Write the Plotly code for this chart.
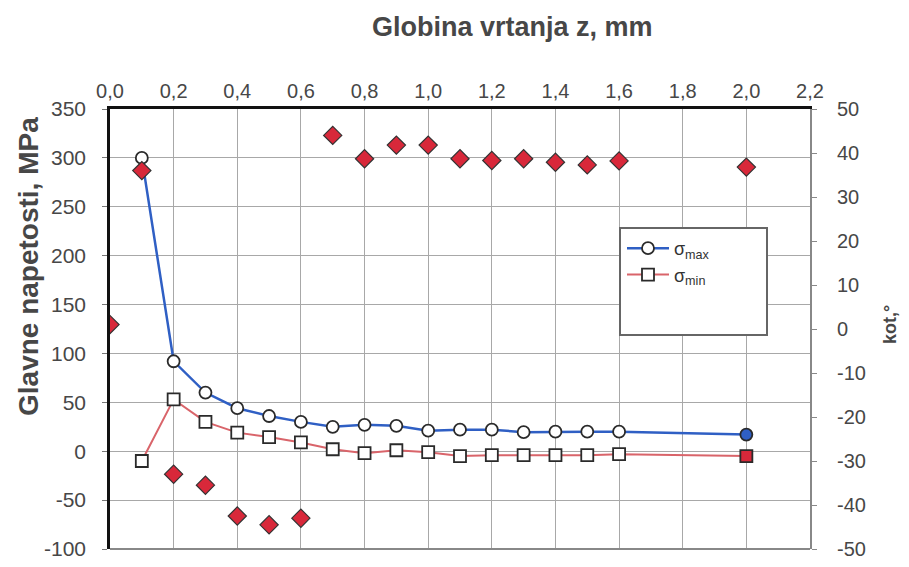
import plotly.graph_objects as go

# depth z, mm
depth = [0.1, 0.2, 0.3, 0.4, 0.5, 0.6, 0.7, 0.8, 0.9, 1.0, 1.1, 1.2, 1.3, 1.4, 1.5, 1.6, 2.0]
sigma_max = [300, 92, 60, 44, 36, 30, 25, 27, 26, 21, 22, 22, 19.5, 20, 20, 20, 17]
sigma_min = [-10, 53, 30, 19, 14.5, 9, 2, -2, 1, -1, -5, -4, -4, -4, -4, -3, -5]

angle_depth = [0.0, 0.1, 0.2, 0.3, 0.4, 0.5, 0.6, 0.7, 0.8, 0.9, 1.0, 1.1, 1.2, 1.3, 1.4, 1.5, 1.6, 2.0]
angle = [1, 36, -33, -35.5, -42.5, -44.5, -43, 44, 38.7, 41.8, 41.8, 38.7, 38.3, 38.7, 37.9, 37.3, 38.2, 36.8]

x_ticks = [0.0, 0.2, 0.4, 0.6, 0.8, 1.0, 1.2, 1.4, 1.6, 1.8, 2.0, 2.2]
x_tick_labels = ["0,0", "0,2", "0,4", "0,6", "0,8", "1,0", "1,2", "1,4", "1,6", "1,8", "2,0", "2,2"]
y_ticks = [350, 300, 250, 200, 150, 100, 50, 0, -50, -100]
y_tick_labels = ["350", "300", "250", "200", "150", "100", "50", "0", "-50", "-100"]
y2_ticks = [50, 40, 30, 20, 10, 0, -10, -20, -30, -40, -50]
y2_tick_labels = ["50", "40", "30", "20", "10", "0", "-10", "-20", "-30", "-40", "-50"]

FONT = "Liberation Sans, Arial, sans-serif"
TXT = "#474747"
BLUE = "#2f5fc4"
RED = "#d9646a"

n = len(depth)
max_fill = ["white"] * (n - 1) + [BLUE]
min_fill = ["white"] * (n - 1) + ["#d8283a"]

fig = go.Figure()
fig.add_trace(go.Scatter(
    x=depth, y=sigma_max, name="σ<sub>max</sub>", mode="lines+markers",
    line=dict(color=BLUE, width=2.5),
    marker=dict(symbol="circle", size=12, color=max_fill,
                line=dict(color="#2a2a2a", width=1.8)),
))
fig.add_trace(go.Scatter(
    x=depth, y=sigma_min, name="σ<sub>min</sub>", mode="lines+markers",
    line=dict(color=RED, width=2),
    marker=dict(symbol="square", size=12, color=min_fill,
                line=dict(color="#2a2a2a", width=1.8)),
))
fig.add_trace(go.Scatter(
    x=angle_depth, y=angle, yaxis="y2", mode="markers", showlegend=False,
    marker=dict(symbol="diamond", size=14, color="#d8283a",
                line=dict(color="#333333", width=1.2)),
))

# page body has an 8px margin; figure sized so it fits the 909x567 window
W, H = 893, 551
L, R, T, B = 102, 91, 101, 10
pw, ph = W - L - R, H - T - B
OFF = 8

def px(xr):
    return (xr - OFF - L) / pw

def py(yr):
    return (H - B - (yr - OFF)) / ph

fig.update_layout(
    width=W, height=H,
    margin=dict(l=L, r=R, t=T, b=B, autoexpand=False),
    paper_bgcolor="white", plot_bgcolor="white",
    font=dict(family=FONT, color=TXT, size=20),
    xaxis=dict(
        side="top", range=[0, 2.2], tickvals=x_ticks, ticktext=x_tick_labels,
        showgrid=True, gridcolor="#a8a8a8", gridwidth=1,
        showline=True, linecolor="#111111", linewidth=2.5, mirror=False,
        ticks="", zeroline=False, tickfont=dict(size=20, color=TXT),
        ticklabeloverflow="allow", automargin=False,
    ),
    yaxis=dict(
        range=[-100, 350], tickvals=y_ticks, ticktext=y_tick_labels,
        showgrid=True, gridcolor="#a8a8a8", gridwidth=1,
        showline=True, linecolor="#111111", linewidth=2.5,
        ticks="outside", ticklen=5, tickcolor="#777777",
        zeroline=False, tickfont=dict(size=21, color=TXT),
        ticklabelstandoff=12, ticklabeloverflow="allow", automargin=False,
    ),
    yaxis2=dict(
        overlaying="y", side="right", range=[-50, 50],
        tickvals=y2_ticks, ticktext=y2_tick_labels,
        showgrid=False, zeroline=False,
        showline=True, linecolor="#888888", linewidth=2,
        ticks="outside", ticklen=5, tickcolor="#888888",
        tickfont=dict(size=20, color=TXT),
        ticklabelstandoff=16, ticklabeloverflow="allow", automargin=False,
    ),
    legend=dict(
        x=px(622), y=py(230), xanchor="left", yanchor="top",
        bgcolor="rgba(0,0,0,0)", borderwidth=0,
        font=dict(size=18, color="#333333"),
        itemwidth=42, tracegroupgap=2,
    ),
    showlegend=True,
)

# bottom border (gray)
fig.add_shape(type="line", xref="paper", yref="paper", x0=0, x1=1, y0=0, y1=0,
              line=dict(color="#888888", width=2))
# legend box
fig.add_shape(type="rect", xref="paper", yref="paper",
              x0=px(620), x1=px(767), y0=py(335), y1=py(228),
              line=dict(color="#666666", width=2), fillcolor="white", layer="above")

fig.add_annotation(text="<b>Globina vrtanja z, mm</b>", xref="paper", yref="paper",
                   x=px(512), y=py(27), xanchor="center", yanchor="middle",
                   showarrow=False, font=dict(size=27, color=TXT))
fig.add_annotation(text="<b>Glavne napetosti, MPa</b>", xref="paper", yref="paper",
                   x=px(28), y=py(267), xanchor="center", yanchor="middle",
                   textangle=-90, showarrow=False, font=dict(size=28, color=TXT))
fig.add_annotation(text="<b>kot,°</b>", xref="paper", yref="paper",
                   x=px(890), y=py(325), xanchor="center", yanchor="middle",
                   textangle=-90, showarrow=False, font=dict(size=18, color=TXT))

fig.write_html("out.html")
